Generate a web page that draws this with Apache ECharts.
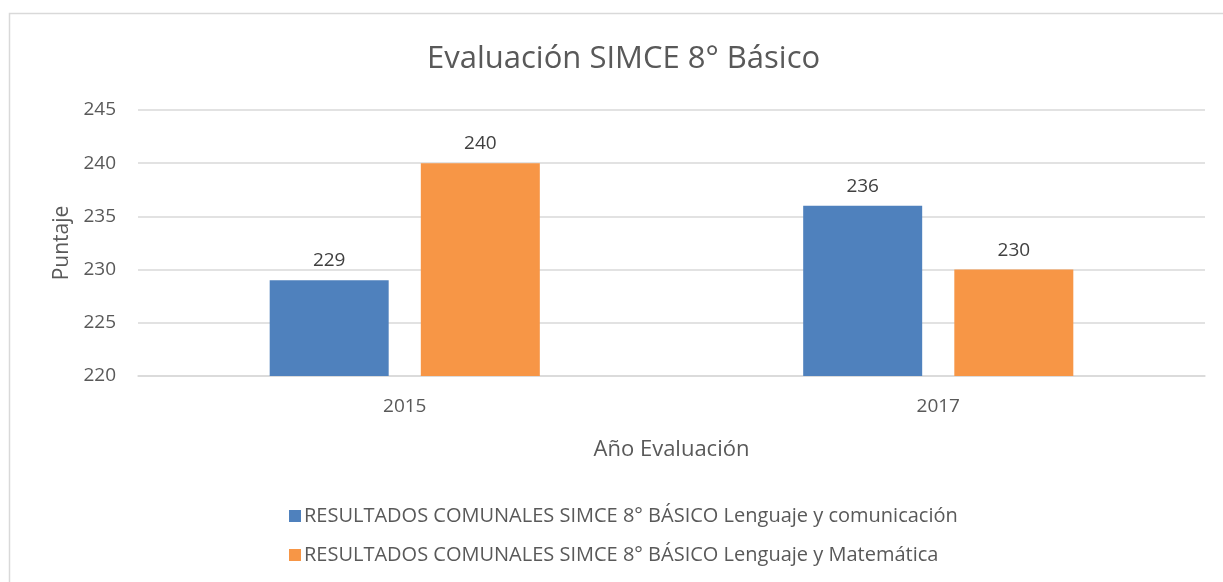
<!DOCTYPE html>
<html>
<head>
<meta charset="utf-8">
<script src="https://cdn.jsdelivr.net/npm/echarts@6/dist/echarts.min.js"></script>
<style>
  html, body { margin: 0; padding: 0; background: #fff; }
  #chart { width: 1223px; height: 582px; }
</style>
</head>
<body>
<div id="chart"></div>
<script>
var years = ['2015', '2017'];
var lenguajeComunicacion = [229, 236];
var lenguajeMatematica = [240, 230];
var seriesNames = [
  'RESULTADOS COMUNALES SIMCE 8° BÁSICO Lenguaje y comunicación',
  'RESULTADOS COMUNALES SIMCE 8° BÁSICO Lenguaje y Matemática'
];

var chartDom = document.getElementById('chart');
var myChart = echarts.init(chartDom);
var font = 'Open Sans';
var textColor = '#595959';

var option = {
  animation: false,
  backgroundColor: '#fff',
  graphic: [{
    type: 'rect',
    shape: { x: 9.5, y: 13.5, width: 1225, height: 600 },
    style: { fill: 'none', stroke: '#d9d9d9', lineWidth: 1.5 },
    silent: true
  }],
  title: {
    text: 'Evaluación SIMCE 8° Básico',
    left: 422,
    top: 39,
    textStyle: { fontFamily: font, fontSize: 31, fontWeight: 'normal', color: textColor }
  },
  legend: {
    orient: 'vertical',
    left: 284,
    top: 501,
    itemWidth: 12,
    itemHeight: 12,
    itemGap: 19,
    icon: 'rect',
    textStyle: { fontFamily: font, fontSize: 20, color: textColor, padding: [0, 0, 0, -2] },
    data: seriesNames
  },
  grid: { left: 138, right: 18, top: 110, bottom: 206 },
  xAxis: {
    type: 'category',
    data: years,
    name: 'Año Evaluación',
    nameLocation: 'middle',
    nameGap: 63,
    nameTextStyle: { fontFamily: font, fontSize: 22, color: textColor },
    axisLine: { lineStyle: { color: '#d9d9d9', width: 1.5 } },
    axisTick: { show: false },
    axisLabel: { fontFamily: font, fontSize: 19, color: textColor, margin: 21 }
  },
  yAxis: {
    type: 'value',
    min: 220,
    max: 245,
    interval: 5,
    name: 'Puntaje',
    nameLocation: 'middle',
    nameGap: 61,
    nameTextStyle: { fontFamily: font, fontSize: 21, color: textColor },
    axisLine: { show: false },
    axisTick: { show: false },
    axisLabel: { fontFamily: font, fontSize: 19, color: textColor, margin: 22 },
    splitLine: { lineStyle: { color: '#d9d9d9', width: 1.5 } }
  },
  series: [
    {
      name: seriesNames[0],
      type: 'bar',
      data: lenguajeComunicacion,
      barWidth: 119,
      barGap: '27%',
      itemStyle: { color: '#4f81bd' },
      label: { show: true, position: 'top', distance: 10, fontFamily: font, fontSize: 19, color: '#404040' }
    },
    {
      name: seriesNames[1],
      type: 'bar',
      data: lenguajeMatematica,
      barWidth: 119,
      barGap: '27%',
      itemStyle: { color: '#f79646' },
      label: { show: true, position: 'top', distance: 10, fontFamily: font, fontSize: 19, color: '#404040' }
    }
  ]
};
option && myChart.setOption(option);
</script>
</body>
</html>
